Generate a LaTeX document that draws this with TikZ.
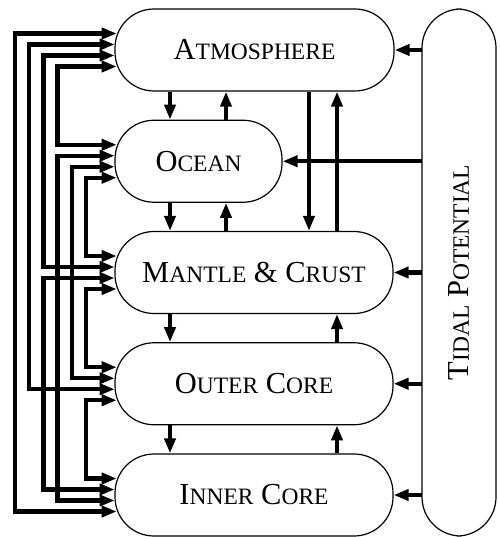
\documentclass[tikz,border=0pt]{standalone}
\usepackage{fontspec}
\setmainfont{Liberation Serif}
\usetikzlibrary{arrows.meta,calc}
\newcommand\SmC[1]{{\fontsize{23.5}{24}\selectfont #1}}
\begin{document}
\begin{tikzpicture}[x=1pt,y=-1pt,
  box/.style={draw, line width=1.2pt, rounded corners=39pt, inner sep=0pt,
    font=\fontsize{30.5}{32}\selectfont},
  tip/.tip={Triangle[length=15pt,width=11pt]},
  conn/.style={line width=4.3pt, -tip},
  biconn/.style={line width=4.3pt, tip-tip},
]
\useasboundingbox (0,0) rectangle (499,537);

% boxes
\node[box, minimum width=279pt, minimum height=82pt] (atm) at (254.5,50) {A\SmC{TMOSPHERE}};
\node[box, minimum width=167pt, minimum height=82pt] (oce) at (198.5,161.25) {O\SmC{CEAN}};
\node[box, minimum width=278pt, minimum height=82pt] (man) at (254,272.5) {M\SmC{ANTLE} \& C\SmC{RUST}};
\node[box, minimum width=278pt, minimum height=82pt] (out) at (254,383.75) {O\SmC{UTER} C\SmC{ORE}};
\node[box, minimum width=278pt, minimum height=82pt] (inn) at (254,495) {I\SmC{NNER} C\SmC{ORE}};
\node[box, minimum width=527pt, minimum height=74pt, rotate=90] (tid) at (459,272.5) {T\SmC{IDAL} P\SmC{OTENTIAL}};

% ports on the left side of each box
\foreach \b in {atm,oce,man,out,inn}{
  \coordinate (\b-1) at ($(\b.west)+(2.3,-16.5)$);
  \coordinate (\b-2) at ($(\b.west)+(0.2,-5.5)$);
  \coordinate (\b-3) at ($(\b.west)+(0.2,5.5)$);
  \coordinate (\b-4) at ($(\b.west)+(2.3,16.5)$);
}
% channel positions
\coordinate (ch1) at (15,0);
\coordinate (ch2) at (29.2,0);
\coordinate (ch3) at (43.4,0);
\coordinate (ch4) at (57.6,0);
\coordinate (ch5) at (71.8,0);
\coordinate (ch6) at (86,0);

\draw[biconn] (atm-1) -- (atm-1 -| ch1) |- (inn-4);
\draw[biconn] (atm-2) -- (atm-2 -| ch2) |- (out-3);
\draw[biconn] (atm-3) -- (atm-3 -| ch3) |- (man-2);
\draw[biconn] (atm-4) -- (atm-4 -| ch4) |- (oce-1);
\draw[biconn] (oce-2) -- (oce-2 -| ch4) |- (inn-3);
\draw[biconn] (oce-3) -- (oce-3 -| ch5) |- (out-2);
\draw[biconn] (oce-4) -- (oce-4 -| ch6) |- (man-1);
\draw[biconn] (man-3) -- (man-3 -| ch3) |- (inn-2);
\draw[biconn] (man-4) -- (man-4 -| ch6) |- (out-1);
\draw[biconn] (out-4) -- (out-4 -| ch6) |- (inn-1);

% vertical exchange arrows
\coordinate (v1) at (170,0);
\coordinate (v2) at (226,0);
\coordinate (v3) at (309,0);
\coordinate (v4) at (337,0);
\draw[conn] (atm.south -| v1) -- (oce.north -| v1);
\draw[conn] (oce.north -| v2) -- (atm.south -| v2);
\draw[conn] (oce.south -| v1) -- (man.north -| v1);
\draw[conn] (man.north -| v2) -- (oce.south -| v2);
\draw[conn] (atm.south -| v3) -- (man.north -| v3);
\draw[conn] (man.north -| v4) -- (atm.south -| v4);
\draw[conn] (man.south -| v1) -- (out.north -| v1);
\draw[conn] (out.north -| v4) -- (man.south -| v4);
\draw[conn] (out.south -| v1) -- (inn.north -| v1);
\draw[conn] (inn.north -| v4) -- (out.south -| v4);

% tidal forcing
\coordinate (tw) at (422,0);
\draw[conn] (atm.east -| tw) -- (atm.east);
\draw[conn] (oce.east -| tw) -- (oce.east);
\draw[conn] (man.east -| tw) -- (man.east);
\draw[conn] (out.east -| tw) -- (out.east);
\draw[conn] (inn.east -| tw) -- (inn.east);
\end{tikzpicture}
\end{document}
